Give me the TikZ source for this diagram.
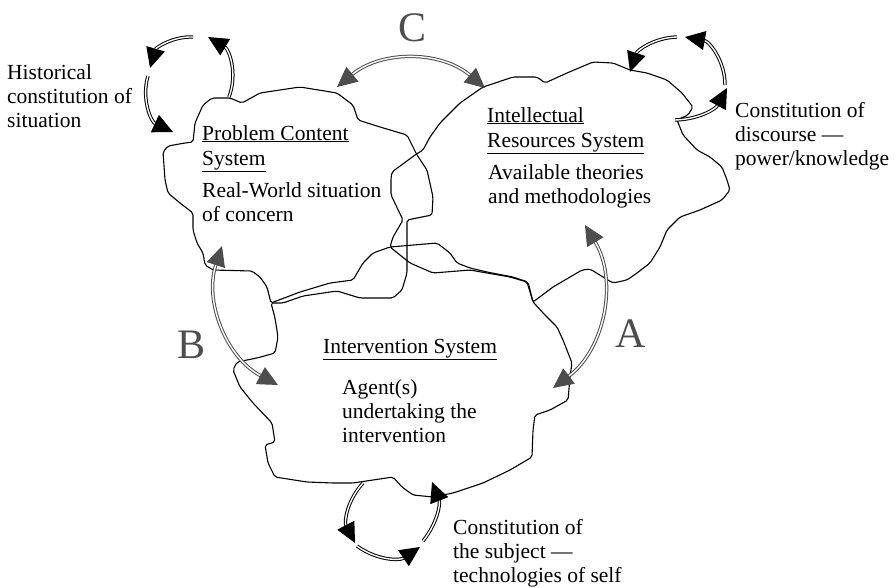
\documentclass[tikz,border=0pt]{standalone}
\usepackage{fontspec}
\setmainfont{Liberation Serif}
\usetikzlibrary{arrows.meta}
\definecolor{linkgray}{RGB}{77,77,77}
\begin{document}
\begin{tikzpicture}[x=1pt,y=-1pt,
  blob/.style={draw=black, line width=1.1pt, line join=round, rounded corners=2pt},
  cycletip/.style={-{Triangle[length=20pt,width=19pt]}},
  loopline/.style={draw=black, double=white, double distance=1.4pt, line width=1pt, cycletip},
  linkline/.style={draw=linkgray, double=white, double distance=1.4pt, line width=1pt,
    {Triangle[length=20pt,width=19pt]}-{Triangle[length=20pt,width=19pt]}},
  txt/.style={font=\fontsize{21.5}{24}\selectfont, align=left, inner sep=0pt, anchor=base west},
  letter/.style={font=\fontsize{42}{42}\selectfont, text=linkgray, inner sep=0pt}]
\useasboundingbox (0,0) rectangle (896,587);

% Problem Content System outline
\draw[blob] (212,98) -- (230,98) -- (242,103) -- (260,93) -- (300,87) -- (337,93)
  -- (353,105) -- (358,120) -- (380,127) -- (407,135) -- (417,155) -- (427,170)
  -- (433,197) -- (432,215) -- (407,220) -- (407,273) -- (402,290) -- (393,298)
  -- (360,298) -- (337,291) -- (303,296) -- (283,303) -- (271,303) -- (267,287)
  -- (260,277) -- (252,271) -- (213,270) -- (205,265) -- (203,253) -- (197,243)
  -- (193,230) -- (193,213) -- (180,203) -- (168,193) -- (165,180) -- (163,152)
  -- (168,146) -- (185,143) -- (193,142) -- (195,123) -- (203,105) -- cycle;

% Intellectual Resources System outline
\draw[blob] (392,172) -- (415,155) -- (423,150) -- (430,137) -- (440,123) -- (460,103)
  -- (483,87) -- (513,77) -- (537,77) -- (545,83) -- (567,73) -- (593,62) -- (613,63)
  -- (630,70) -- (647,73) -- (667,80) -- (682,93) -- (693,107) -- (688,115) -- (677,120)
  -- (683,135) -- (697,150) -- (710,157) -- (722,167) -- (727,180) -- (730,190)
  -- (722,200) -- (700,210) -- (680,217) -- (667,230) -- (660,247) -- (650,263)
  -- (637,273) -- (627,280) -- (613,283) -- (603,277) -- (590,269) -- (582,270)
  -- (553,287) -- (533,302) -- (527,282) -- (510,277) -- (487,273) -- (470,270)
  -- (433,273) -- (410,263) -- (390,247) -- (393,237) -- (403,220) -- (391,195)
  -- (391,178) -- cycle;

% Intervention System outline
\draw[blob] (271,303) -- (300,292) -- (330,283) -- (353,280) -- (363,263) -- (373,253)
  -- (390,247) -- (437,243) -- (450,253) -- (457,263) -- (470,268) -- (487,272)
  -- (513,277) -- (528,282) -- (533,302) -- (545,315) -- (557,327) -- (563,340)
  -- (572,363) -- (570,377) -- (568,400) -- (550,410) -- (535,415) -- (533,430)
  -- (532,457) -- (510,470) -- (483,483) -- (453,493) -- (433,497) -- (413,495)
  -- (402,487) -- (393,477) -- (353,483) -- (333,483) -- (307,482) -- (275,477)
  -- (268,463) -- (265,445) -- (275,442) -- (272,423) -- (253,403) -- (240,387)
  -- (233,370) -- (237,362) -- (257,358) -- (275,353) -- (278,337) -- (275,318) -- cycle;

% ends of the cycle arrows
\coordinate (hA) at (229,97);  \coordinate (hB) at (208,37);
\coordinate (hC) at (193,37);  \coordinate (hD) at (150,68);
\coordinate (hE) at (148,76);  \coordinate (hF) at (173,132);
\coordinate (dA) at (675,120); \coordinate (dB) at (727,88);
\coordinate (dC) at (725,85);  \coordinate (dD) at (685,37);
\coordinate (dE) at (677,37);  \coordinate (dF) at (630,72);
\coordinate (sA) at (363,483); \coordinate (sB) at (355,543);
\coordinate (sC) at (357,546); \coordinate (sD) at (420,547);
\coordinate (sE) at (423,541); \coordinate (sF) at (432,482);
% ends of the links between systems
\coordinate (cL) at (337,87);  \coordinate (cR) at (485,88);
\coordinate (bT) at (222,246); \coordinate (bB) at (278,385);
\coordinate (aT) at (585,225); \coordinate (aB) at (553,388);

% historical constitution cycle
\draw[loopline] (hA) to[bend right=40] (hB);
\draw[loopline] (hC) to[bend right=38] (hD);
\draw[loopline] (hE) to[bend right=41] (hF);
% constitution of discourse cycle
\draw[loopline] (dA) to[bend right=30] (dB);
\draw[loopline] (dC) to[bend right=40] (dD);
\draw[loopline] (dE) to[bend right=35] (dF);
% constitution of the subject cycle
\draw[loopline] (sA) to[bend right=35] (sB);
\draw[loopline] (sC) to[bend right=35] (sD);
\draw[loopline] (sE) to[bend right=30] (sF);

% links A, B, C
\draw[linkline] (cL) to[bend left=40] (cR);
\draw[linkline] (bT) to[bend right=40] (bB);
\draw[linkline] (aT) to[bend left=42] (aB);

\node[letter] (lc) at (413,28) {C};
\node[letter] (lb) at (192,345) {B};
\node[letter] (la) at (631,334) {A};

% labels (each anchored at the baseline of its last line)
\node[txt] (hist) at (7,127) {Historical\\constitution of\\situation};
\node[txt] (ptitle) at (202,165) {\underline{Problem Content}\\[1pt]\underline{System}};
\node[txt] (pdesc) at (202,221) {Real-World situation\\of concern};
\node[txt] (rtitle) at (487,147) {\underline{Intellectual}\\[1pt]\underline{Resources System}};
\node[txt] (rdesc) at (488,203) {Available theories\\and methodologies};
\node[txt] (ititle) at (323,353) {\underline{Intervention System}};
\node[txt] (idesc) at (342,442) {Agent(s)\\undertaking the\\intervention};
\node[txt] (disc) at (735,165) {Constitution of\\discourse —\\power/knowledge};
\node[txt] (subj) at (453,582) {Constitution of\\the subject —\\technologies of self};
\end{tikzpicture}
\end{document}
